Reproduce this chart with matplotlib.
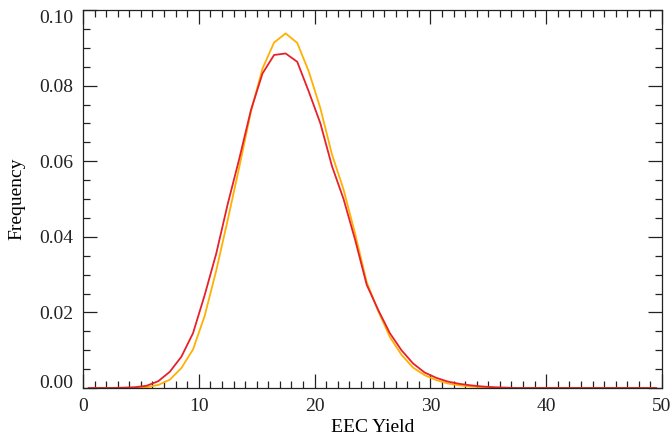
import numpy as np
import matplotlib
matplotlib.use("Agg")
import matplotlib.pyplot as plt
from matplotlib.ticker import MultipleLocator

# bin centres of the EEC yield histogram
eec_yield = np.arange(50) + 0.5

# orange curve (drawn first)
freq_orange = [0, 0, 0, 0, 0.0001, 0.0002, 0.0008, 0.0022, 0.0053, 0.0102,
               0.0190, 0.0310, 0.0445, 0.0585, 0.0731, 0.0845, 0.0914, 0.0938, 0.0913, 0.0837,
               0.0740, 0.0618, 0.0525, 0.0408, 0.0280, 0.0203, 0.0135, 0.0088, 0.0054, 0.0034,
               0.0021, 0.0012, 0.0007, 0.0004, 0.0002, 0.0001, 0, 0, 0, 0,
               0, 0, 0, 0, 0, 0, 0, 0, 0, 0]

# red curve (on top)
freq_red = [0, 0, 0, 0.0001, 0.0002, 0.0006, 0.0018, 0.0043, 0.0083, 0.0145,
            0.0245, 0.0355, 0.0487, 0.0607, 0.0735, 0.0832, 0.0881, 0.0885, 0.0863, 0.0784,
            0.0700, 0.0587, 0.0500, 0.0392, 0.0273, 0.0206, 0.0145, 0.0100, 0.0065, 0.0041,
            0.0027, 0.0017, 0.0011, 0.0007, 0.0004, 0.0002, 0.0001, 0, 0, 0,
            0, 0, 0, 0, 0, 0, 0, 0, 0, 0]

plt.rcParams['font.family'] = ['Liberation Serif', 'DejaVu Serif']

fig = plt.figure(figsize=(6.72, 4.43), dpi=100)
ax = fig.add_axes([83 / 672, 1 - 388 / 443, (662 - 83) / 672, (388 - 10) / 443])

ax.plot(eec_yield, freq_orange, color='#ffb000', lw=1.3)
ax.plot(eec_yield, freq_red, color='#e8202a', lw=1.3)

ax.set_xlim(0, 50)
ax.set_ylim(0, 0.1)
ax.xaxis.set_major_locator(MultipleLocator(10))
ax.xaxis.set_minor_locator(MultipleLocator(1))
ax.yaxis.set_major_locator(MultipleLocator(0.02))
ax.yaxis.set_minor_locator(MultipleLocator(0.005))
ax.yaxis.set_major_formatter(plt.FormatStrFormatter('%.2f'))

ax.tick_params(which='both', direction='in', top=True, right=True, width=0.9, colors='#222222')
ax.tick_params(which='major', length=10, pad=7, labelsize=14)
ax.tick_params(which='minor', length=5)
for s in ax.spines.values():
    s.set_linewidth(0.9)
    s.set_color('#222222')

ax.set_xlabel('EEC Yield', fontsize=14, labelpad=3)
ax.set_ylabel('Frequency', fontsize=14, labelpad=10)

# keep the end labels of the y axis inside the frame
fig.canvas.draw()
for tick in ax.yaxis.get_major_ticks():
    if abs(tick.get_loc() - 0.1) < 1e-9:
        tick.label1.set_verticalalignment('top')
    elif abs(tick.get_loc()) < 1e-9:
        tick.label1.set_verticalalignment('baseline')

fig.savefig('out.png', dpi=100)
